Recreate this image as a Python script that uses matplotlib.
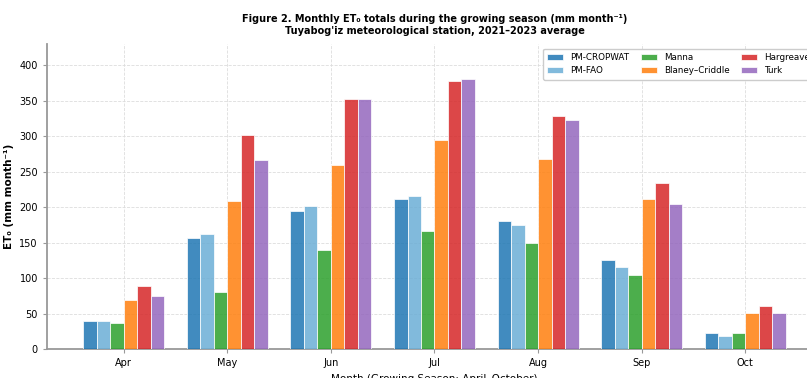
import matplotlib.pyplot as plt
import numpy as np

# Monthly ET0 totals (mm/month), 2021-2023 average
months = ["Apr", "May", "Jun", "Jul", "Aug", "Sep", "Oct"]
pm_cropwat = [40, 156, 195, 211, 180, 126, 23]
pm_fao = [39, 162, 201, 215, 175, 116, 19]
manna = [36, 81, 140, 166, 150, 104, 22]
blaney_criddle = [69, 208, 259, 295, 268, 211, 51]
hargreaves = [89, 301, 353, 378, 328, 234, 61]
turk = [75, 267, 352, 381, 323, 205, 51]

methods = ["PM-CROPWAT", "PM-FAO", "Manna", "Blaney\u2013Criddle", "Hargreaves", "Turk"]
series = [pm_cropwat, pm_fao, manna, blaney_criddle, hargreaves, turk]
colors = ["#1f77b4", "#6baed6", "#2ca02c", "#ff7f0e", "#d62728", "#9467bd"]

plt.rcParams["font.family"] = "DejaVu Sans"

fig = plt.figure(figsize=(8.07, 3.78), dpi=100)
ax = fig.add_axes([0.0582, 0.0767, 0.9604, 0.807])

x = np.arange(len(months))
width = 0.13
for i, (name, vals) in enumerate(zip(methods, series)):
    offset = (i - 2.5) * width
    ax.bar(x + offset, vals, width, label=name, color=colors[i], alpha=0.85,
           edgecolor="white", linewidth=0.6, zorder=3)

ax.set_xlim(-0.74, 6.74)
ax.set_ylim(0, 430)
ax.set_xticks(x)
ax.set_xticklabels(months, fontsize=7)
ax.set_yticks(range(0, 401, 50))
ax.tick_params(axis="y", labelsize=7, length=3, color="#999999")
ax.tick_params(axis="x", length=3, color="#999999")

ax.grid(True, linestyle="--", linewidth=0.6, color="#dddddd", zorder=0)
ax.set_axisbelow(True)
for side in ["top", "right"]:
    ax.spines[side].set_visible(False)
for side in ["left", "bottom"]:
    ax.spines[side].set_color("#999999")
    ax.spines[side].set_linewidth(1.3)

ax.set_ylabel("ET\u2080 (mm month\u207b\u00b9)", fontsize=7.5, fontweight="bold")
ax.set_xlabel("Month (Growing Season: April\u2013October)", fontsize=7.5, labelpad=4)
ax.set_title("Figure 2. Monthly ET\u2080 totals during the growing season (mm month\u207b\u00b9)\n"
             "Tuyabog'iz meteorological station, 2021\u20132023 average",
             fontsize=7, fontweight="bold", pad=7, linespacing=1.25)

ax.legend(loc="upper left", bbox_to_anchor=(0.64, 0.985), ncol=3, fontsize=6.3,
          frameon=True, edgecolor="#cccccc", framealpha=1, handlelength=1.8,
          columnspacing=1.35, borderaxespad=0, borderpad=0.5)

fig.savefig("out.png", dpi=100)
